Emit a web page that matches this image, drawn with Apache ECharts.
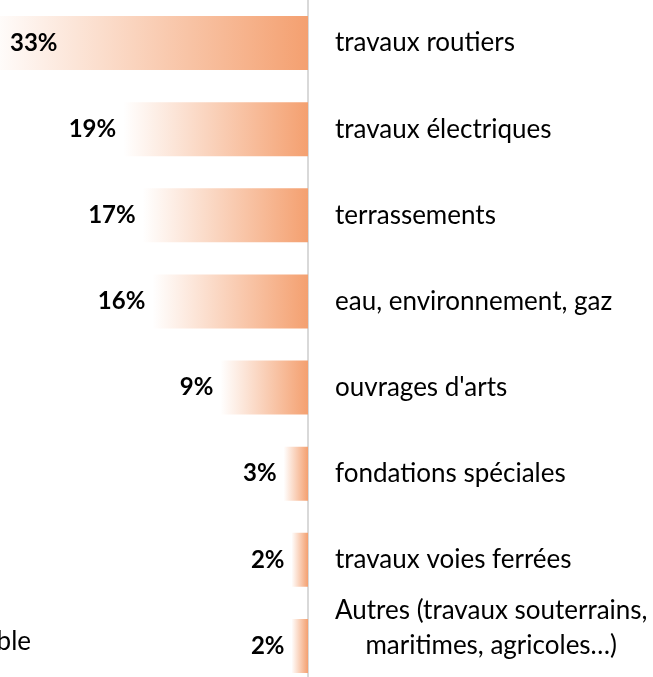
<!DOCTYPE html>
<html>
<head>
<meta charset="utf-8">
<script src="https://cdn.jsdelivr.net/npm/echarts@6/dist/echarts.min.js"></script>
<style>
html,body{margin:0;padding:0;background:#fff;}
#chart{width:653px;height:677px;}
</style>
</head>
<body>
<div id="chart"></div>
<script>
const categories = ['travaux routiers', 'travaux électriques', 'terrassements', 'eau, environnement, gaz', "ouvrages d'arts", 'fondations spéciales', 'travaux voies ferrées', 'Autres (travaux souterrains,\nmaritimes, agricoles…)'];
const values = [33, 19, 17, 16, 9, 2.5, 1.7, 1.7];
const valueLabels = ['33%', '19%', '17%', '16%', '9%', '3%', '2%', '2%'];
const sideText = 'Ensemble';

const FONT = 'Lato';
const FS = 26;
const FS_VAL = 24;

function measure(t, weight) {
  const c = document.createElement('canvas').getContext('2d');
  c.font = (weight || 'normal') + ' ' + FS + 'px ' + FONT;
  return c.measureText(t).width;
}

const chart = echarts.init(document.getElementById('chart'), null, {renderer: 'canvas'});

const orange = '#F4A070';
const gradient = new echarts.graphic.LinearGradient(0, 0, 1, 0, [
  {offset: 0, color: '#ffffff'},
  {offset: 1, color: orange}
]);

const seriesData = values.map((v, i) => {
  const item = {value: v};
  if (i === 0) {
    item.label = {position: 'insideLeft', distance: 23};
  }
  return item;
});

const lastParts = categories[categories.length - 1].split('\n');

chart.setOption({
  animation: false,
  grid: {right: 345, width: 321, top: 0, height: 689, containLabel: false, outerBoundsMode: 'none'},
  xAxis: {
    type: 'value', min: 0, max: 33, inverse: true, show: false
  },
  yAxis: {
    type: 'category', inverse: true, position: 'right',
    data: categories,
    axisLine: {show: true, lineStyle: {color: '#d9d9d9', width: 2}},
    axisTick: {show: false},
    splitLine: {show: false},
    axisLabel: {
      interval: 0, margin: 27, color: '#000', fontFamily: FONT, fontSize: FS,
      formatter: function (v) {
        if (v.indexOf('\n') >= 0) {
          const parts = v.split('\n');
          return '{a|' + parts[0] + '}\n{b|' + parts[1] + '}\n{a| }';
        }
        return v;
      },
      rich: {
        a: {fontFamily: FONT, fontSize: FS, color: '#000', lineHeight: 35},
        b: {fontFamily: FONT, fontSize: FS, color: '#000', lineHeight: 35,
            padding: [0, 0, 0, Math.max(0, (measure(lastParts[0]) - measure(lastParts[1])) / 2)]}
      }
    }
  },
  series: [{
    type: 'bar',
    data: seriesData,
    barWidth: 54,
    itemStyle: {color: gradient},
    label: {
      show: true, position: 'left', distance: 7,
      color: '#000', fontFamily: FONT, fontSize: FS_VAL, fontWeight: 'bold',
      formatter: function (p) { return valueLabels[p.dataIndex]; }
    }
  }],
  graphic: [{
    type: 'text',
    style: {
      text: sideText, x: 31, y: 642, align: 'right', verticalAlign: 'middle',
      fontFamily: FONT, fontSize: FS, fill: '#000'
    }
  }]
});
</script>
</body>
</html>
